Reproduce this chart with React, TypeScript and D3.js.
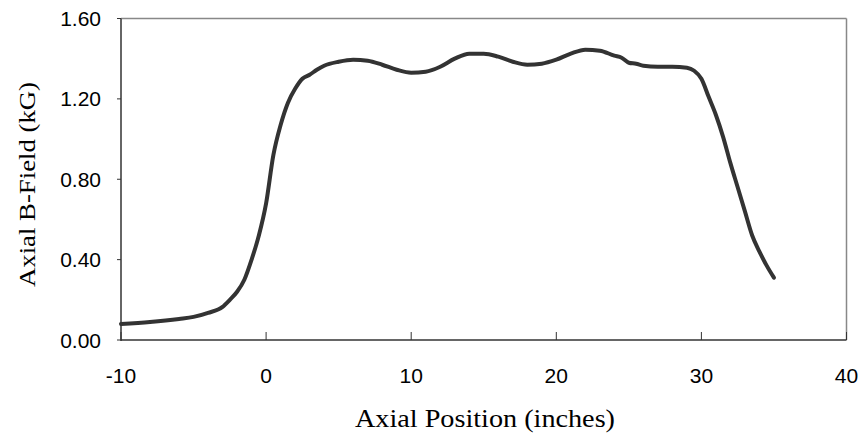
import React from "react";
import * as d3 from "d3";

const xValues = [-10, -8, -6, -5, -4, -3, -2.5, -2, -1.5, -1, -0.5, 0, 0.5, 1, 1.5, 2, 2.5, 3, 3.5, 4, 5, 6, 7, 8, 9, 10, 11, 12, 13, 14, 15, 16, 17, 18, 19, 20, 21, 22, 23, 24, 24.5, 25, 25.5, 26, 27, 28, 29, 29.5, 30, 30.5, 31, 31.5, 32, 32.5, 33, 33.5, 34, 34.5, 35];
const yValues = [0.08, 0.09, 0.105, 0.115, 0.135, 0.165, 0.2, 0.24, 0.3, 0.4, 0.52, 0.68, 0.92, 1.07, 1.18, 1.25, 1.3, 1.32, 1.345, 1.365, 1.385, 1.395, 1.39, 1.37, 1.345, 1.33, 1.335, 1.36, 1.4, 1.425, 1.425, 1.41, 1.385, 1.37, 1.375, 1.395, 1.425, 1.445, 1.44, 1.415, 1.405, 1.38, 1.375, 1.365, 1.36, 1.36, 1.355, 1.34, 1.3, 1.21, 1.12, 1.01, 0.88, 0.76, 0.64, 0.52, 0.44, 0.37, 0.31];
const xTicks = [-10, 0, 10, 20, 30, 40];
const yTicks = [0, 0.4, 0.8, 1.2, 1.6];
const xTitle = "Axial Position (inches)";
const yTitle = "Axial B-Field (kG)";

export default function App() {
  const W = 863, H = 433;
  const left = 121, right = 846.5, top = 18.5, bottom = 340;
  const x = d3.scaleLinear().domain([-10, 40]).range([left, right]);
  const y = d3.scaleLinear().domain([0, 1.6]).range([bottom, top]);
  const pts = xValues.map((v, i) => [v, yValues[i]] as [number, number]);
  const line = d3.line<[number, number]>().x(d => x(d[0])).y(d => y(d[1])).curve(d3.curveMonotoneX);
  const sans = "Liberation Sans, Arial, sans-serif";
  const serif = "Liberation Serif, Times New Roman, serif";
  return (
    <svg width={W} height={H} style={{ position: "absolute", left: 0, top: 0 }}>
      <rect width={W} height={H} fill="#fff" />
      <line x1={left} x2={right} y1={top} y2={top} stroke="#888" strokeWidth={1.5} />
      <line x1={right} x2={right} y1={top} y2={bottom} stroke="#888" strokeWidth={1.5} />
      <line x1={left} x2={left} y1={top} y2={bottom + 1} stroke="#333" strokeWidth={1.5} />
      <line x1={left} x2={right} y1={bottom} y2={bottom} stroke="#333" strokeWidth={1.5} />
      {yTicks.map(t => (
        <g key={"y" + t}>
          <line x1={left - 4} x2={left} y1={y(t)} y2={y(t)} stroke="#333" strokeWidth={1} />
          <text x={101} y={y(t) + 7.5} textAnchor="end" fontFamily={sans} fontSize={21} fill="#000">{t.toFixed(2)}</text>
        </g>
      ))}
      {xTicks.map(t => (
        <g key={"x" + t}>
          <line x1={x(t)} x2={x(t)} y1={bottom - 8} y2={bottom} stroke="#333" strokeWidth={1} />
          <text x={x(t)} y={382.5} textAnchor="middle" fontFamily={sans} fontSize={21} fill="#000">{t}</text>
        </g>
      ))}
      <path d={line(pts) || ""} fill="none" stroke="#333" strokeWidth={4} strokeLinejoin="round" strokeLinecap="round" />
      <text x={485} y={426.5} textAnchor="middle" fontFamily={serif} fontSize={25} textLength={260} lengthAdjust="spacingAndGlyphs" fill="#000">{xTitle}</text>
      <text transform={`translate(35,184.5) rotate(-90)`} textAnchor="middle" fontFamily={serif} fontSize={23} textLength={205} lengthAdjust="spacingAndGlyphs" fill="#000">{yTitle}</text>
    </svg>
  );
}
